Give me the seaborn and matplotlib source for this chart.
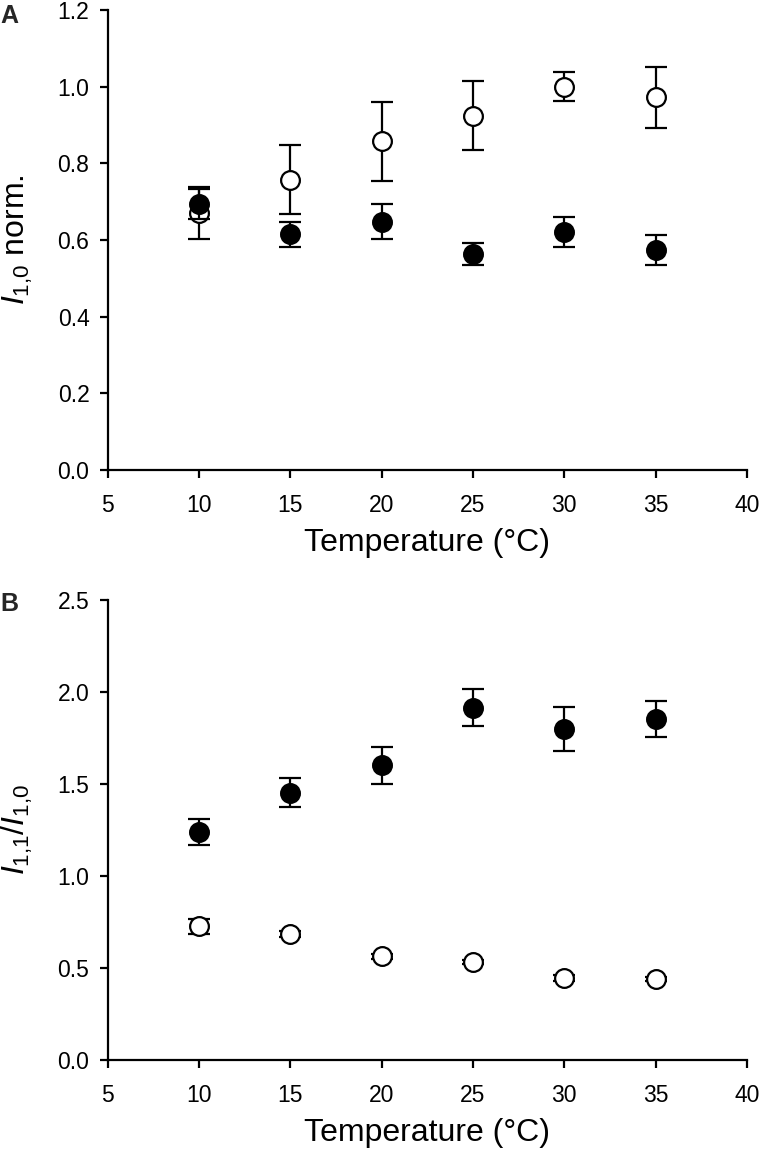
import matplotlib
matplotlib.use("Agg")
import matplotlib.pyplot as plt
import seaborn as sns
import pandas as pd

# ---- data ----
temperature = [10, 15, 20, 25, 30, 35]

# Panel A: I1,0 normalised
a_open = [0.670, 0.757, 0.857, 0.924, 1.000, 0.972]
a_open_err = [0.067, 0.090, 0.102, 0.090, 0.038, 0.080]
a_filled = [0.694, 0.615, 0.648, 0.563, 0.622, 0.574]
a_filled_err = [0.040, 0.032, 0.045, 0.028, 0.039, 0.038]

# Panel B: I1,1 / I1,0
b_filled = [1.240, 1.453, 1.601, 1.915, 1.797, 1.852]
b_filled_err = [0.070, 0.078, 0.100, 0.100, 0.120, 0.097]
b_open = [0.726, 0.686, 0.563, 0.532, 0.445, 0.440]
b_open_err = [0.040, 0.015, 0.015, 0.010, 0.015, 0.012]

x_ticks = [5, 10, 15, 20, 25, 30, 35, 40]
a_yticks = [0.0, 0.2, 0.4, 0.6, 0.8, 1.0, 1.2]
b_yticks = [0.0, 0.5, 1.0, 1.5, 2.0, 2.5]

sns.set_theme(style="ticks")
plt.rcParams['font.family'] = ['Liberation Sans', 'DejaVu Sans']
plt.rcParams['mathtext.fontset'] = 'custom'
plt.rcParams['mathtext.rm'] = 'Liberation Sans'
plt.rcParams['mathtext.it'] = 'Liberation Sans:italic'
plt.rcParams['mathtext.bf'] = 'Liberation Sans:bold'

W, H = 762, 1149
fig = plt.figure(figsize=(W / 100, H / 100), dpi=100)
left = 107.5 / W
width = (747 - 107.5) / W
axA = fig.add_axes([left, 1 - 470 / H, width, 460 / H])
axB = fig.add_axes([left, 1 - 1060 / H, width, 460 / H])

MS = 13.5
LW = 1.6
CAP = 8


def draw_series(ax, y, err, filled, z):
    df = pd.DataFrame({"T": temperature, "v": y})
    ax.errorbar(temperature, y, yerr=err, fmt="none", ecolor="black",
                elinewidth=LW, capsize=CAP, capthick=LW, zorder=z)
    sns.scatterplot(data=df, x="T", y="v", ax=ax, s=MS ** 2, marker="o",
                    facecolor="black" if filled else "white",
                    edgecolor="black", linewidth=LW, zorder=z + 0.5)


draw_series(axA, a_open, a_open_err, False, 3)
draw_series(axA, a_filled, a_filled_err, True, 5)
draw_series(axB, b_open, b_open_err, False, 3)
draw_series(axB, b_filled, b_filled_err, True, 5)

for ax, yt, lim, lab in [
    (axA, a_yticks, 1.2, r"$I_{1{,}0}$ norm."),
    (axB, b_yticks, 2.5, r"$I_{1{,}1}/I_{1{,}0}$"),
]:
    ax.set_xlim(5, 40)
    ax.set_ylim(0, lim)
    ax.set_xticks(x_ticks)
    ax.set_yticks(yt)
    ax.set_yticklabels([f"{v:.1f}" for v in yt])
    ax.set_xticklabels([str(v) for v in x_ticks])
    for s in ["top", "right"]:
        ax.spines[s].set_visible(False)
    for s in ["left", "bottom"]:
        ax.spines[s].set_linewidth(1.6)
        ax.spines[s].set_color("black")
    ax.tick_params(axis="both", direction="out", length=6, width=1.6,
                   colors="black", labelsize=16.5)
    ax.tick_params(axis="x", pad=11)
    ax.tick_params(axis="y", pad=7)
    ax.set_xlabel("Temperature (°C)", fontsize=23, color="black", labelpad=8)
    ax.set_ylabel(lab, fontsize=23, color="black")
    ax.yaxis.set_label_coords(-0.113, 0.5)
    ax.set_facecolor("white")
    ax.patch.set_alpha(0)
    ax.grid(False)

fig.text(0.0, 1 - 4 / H, "A", fontsize=18, fontweight="bold", va="top", ha="left")
fig.text(0.0, 1 - 592 / H, "B", fontsize=18, fontweight="bold", va="top", ha="left")

fig.savefig("out.png", dpi=100, facecolor="white")
